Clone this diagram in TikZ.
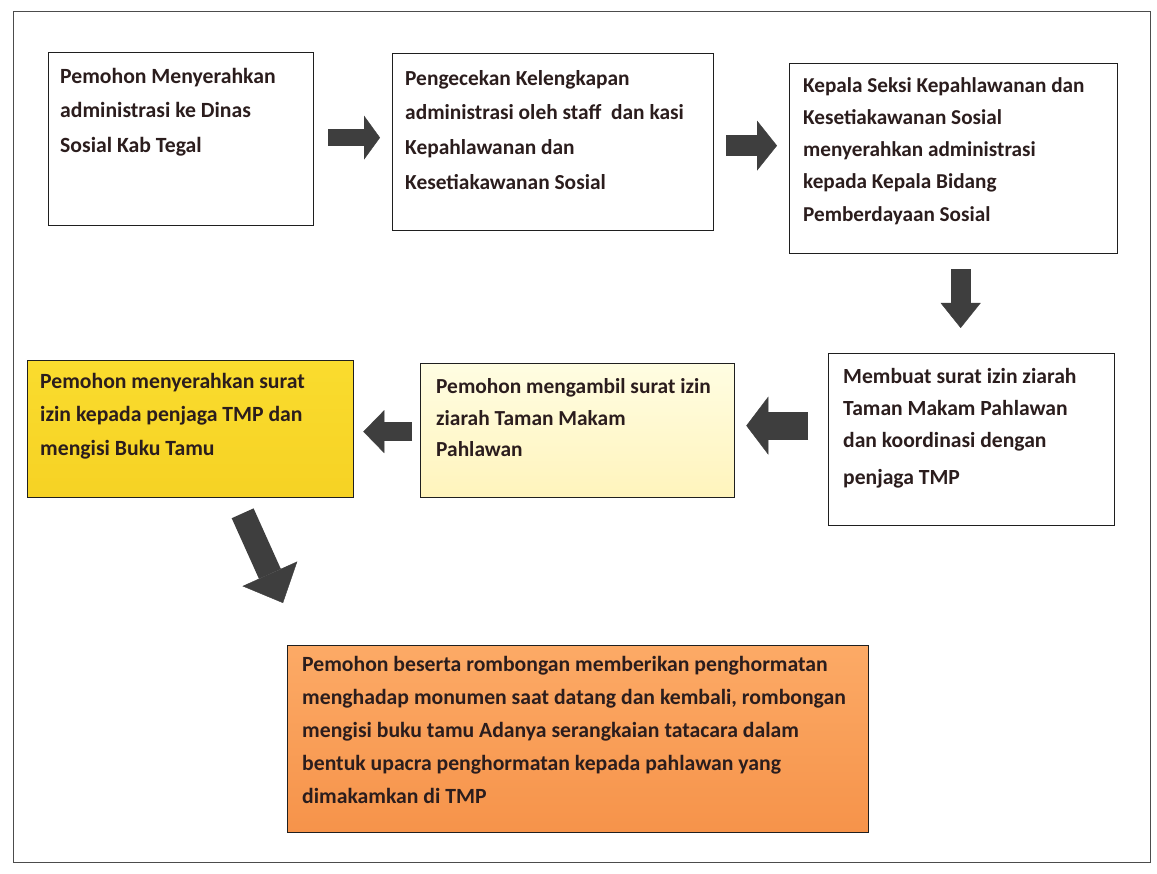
\documentclass[tikz,border=0pt]{standalone}
\usepackage{fontspec}
\setmainfont{Carlito}
\usetikzlibrary{arrows.meta,calc}
\definecolor{ink}{HTML}{2B1D1D}
\definecolor{arr}{HTML}{3E3E3E}
\definecolor{yel}{HTML}{FADC2E}
\definecolor{yelB}{HTML}{F6D224}
\definecolor{lyelA}{HTML}{FFFDE2}
\definecolor{lyelB}{HTML}{FFF4BC}
\definecolor{orA}{HTML}{FCAA66}
\definecolor{orB}{HTML}{F6934A}
\tikzset{
  box/.style={draw=black!88, line width=1.3pt, anchor=north west, inner sep=0pt},
  txt/.style n args={2}{anchor=north west, align=left, inner sep=0pt, text=ink,
    font=\fontsize{#1}{#2}\selectfont\bfseries},
  blk/.style n args={3}{draw=arr, line width=#1pt,
    -{Triangle[length=#3pt, width=#2pt, line width=0.4pt]}},
}
\begin{document}
\begin{tikzpicture}[x=1pt,y=-1pt]
\useasboundingbox (0,0) rectangle (1157,874);
\fill[white] (0,0) rectangle (1157,874);
\draw[black!70, line width=1pt] (13,12) rectangle (1150,862);

% boxes
\node[box, fill=white, minimum width=265, minimum height=173] (b1) at (48,52) {};
\node[box, fill=white, minimum width=321, minimum height=177] (b2) at (392,53) {};
\node[box, fill=white, minimum width=328, minimum height=190] (b3) at (789,63) {};
\node[box, fill=white, minimum width=286, minimum height=172] (b4) at (828,353) {};
\node[box, top color=lyelA, bottom color=lyelB, minimum width=314, minimum height=134] (b5) at (420,363) {};
\node[box, top color=yel, bottom color=yelB, minimum width=326, minimum height=137] (b6) at (27,360) {};
\node[box, top color=orA, bottom color=orB, minimum width=581, minimum height=187] (b7) at (287,645) {};

% texts
\node[txt={21.7}{34.5}] (t1) at (60,68) {Pemohon Menyerahkan\\administrasi ke Dinas\\Sosial Kab Tegal};
\node[txt={21.4}{34.7}] (t2) at (405,70) {Pengecekan Kelengkapan\\administrasi oleh staff\ \ dan kasi\\Kepahlawanan dan\\Kesetiakawanan Sosial};
\node[txt={21.2}{32.3}] (t3) at (803,77) {Kepala Seksi Kepahlawanan dan\\Kesetiakawanan Sosial\\menyerahkan administrasi\\kepada Kepala Bidang\\Pemberdayaan Sosial};
\node[txt={21.6}{32}] (t4) at (843,368) {Membuat surat izin ziarah\\Taman Makam Pahlawan\\dan koordinasi dengan\\[5pt]penjaga TMP};
\node[txt={21.4}{31.8}] (t5) at (436,378) {Pemohon mengambil surat izin\\ziarah Taman Makam\\Pahlawan};
\node[txt={21.7}{33.5}] (t6) at (40,373) {Pemohon menyerahkan surat\\izin kepada penjaga TMP dan\\mengisi Buku Tamu};
\node[txt={21.7}{33}] (t7) at (302,656) {Pemohon beserta rombongan memberikan penghormatan\\menghadap monumen saat datang dan kembali, rombongan\\mengisi buku tamu Adanya serangkaian tatacara dalam\\bentuk upacra penghormatan kepada pahlawan yang\\dimakamkan di TMP};

% block arrows
\draw[blk={17}{44}{16}] ($(b1.east)+(14,-1.5)$) -- ($(b2.west)+(-12,-4.5)$);
\draw[blk={21}{50}{20}] ($(b2.east)+(12,3.5)$) -- ($(b3.west)+(-12,-13)$);
\draw[blk={20}{40}{25}] ($(b3.south)+(7,15)$) -- ($(b4.north)+(-11,-25)$);
\draw[blk={28}{58}{22}] ($(b4.west)+(-20,-14)$) -- ($(b5.east)+(11,-5)$);
\draw[blk={19}{43}{21}] ($(b5.west)+(-8,1)$) -- ($(b6.east)+(9,2.5)$);
\draw[blk={24}{60}{32}] ($(b6.south)+(52,15)$) -- ($(b7.north west)+(-4,-42)$);
\end{tikzpicture}
\end{document}
